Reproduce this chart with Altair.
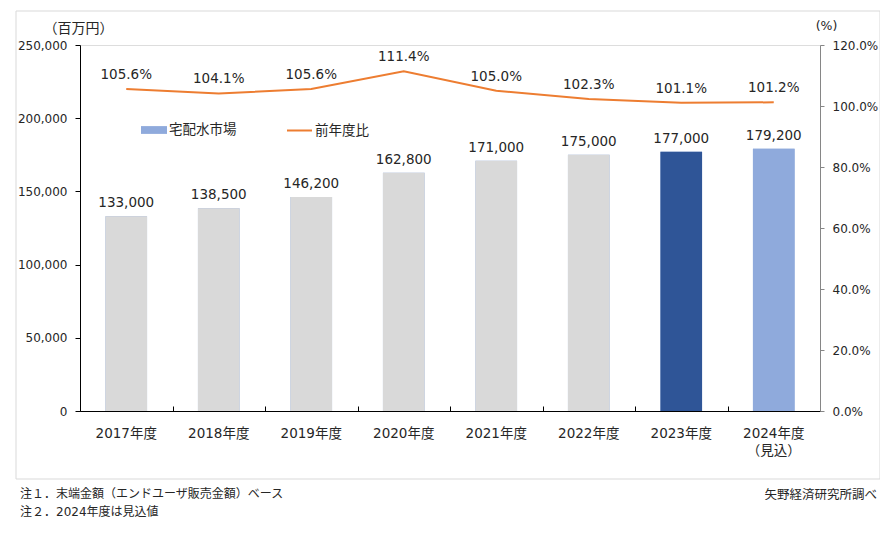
import altair as alt
import pandas as pd

years = ["2017年度", "2018年度", "2019年度", "2020年度", "2021年度", "2022年度", "2023年度", "2024年度\n（見込）"]
market = [133000, 138500, 146200, 162800, 171000, 175000, 177000, 179200]
ratio = [105.6, 104.1, 105.6, 111.4, 105.0, 102.3, 101.1, 101.2]
left_ticks = [0, 50000, 100000, 150000, 200000, 250000]
right_ticks = [0, 20, 40, 60, 80, 100, 120]
series_bar = "宅配水市場"
series_line = "前年度比"
notes = ["注１．末端金額（エンドユーザ販売金額）ベース", "注２．2024年度は見込値"]
source = "矢野経済研究所調べ"
bar_colors = ["#D9D9D9"] * 6 + ["#2F5597", "#8FAADC"]

df = pd.DataFrame({"year": years, "market": market, "ratio": ratio})
df["s1"] = series_bar
df["s2"] = series_line

FONT = "DejaVu Sans, Noto Sans CJK JP"
TXT = "#262626"
W, H = 740, 366

xs = alt.Scale(domain=years, paddingInner=0, paddingOuter=0)
ys = alt.Scale(domain=[0, 250000], nice=False, zero=True)
y2s = alt.Scale(domain=[0, 120], nice=False, zero=True)

base = alt.Chart(df)

bars_legend = base.mark_bar(width=alt.RelativeBandSize(0.45)).encode(
    x=alt.X("year:N", scale=xs, sort=years, title=None,
            axis=alt.Axis(orient="bottom", labelAngle=0, ticks=False, domainColor="#000000",
                          labelFont=FONT, labelFontSize=13.5, labelColor=TXT, labelPadding=15,
                          labelBaseline="top", labelLineHeight=17,
                          labelExpr="split(datum.label, '\\n')")),
    y=alt.Y("market:Q", scale=ys,
            axis=alt.Axis(orient="left", values=left_ticks, format=",.0f", grid=False,
                          domainColor="#000000", tickColor="#000000", tickSize=5,
                          labelPadding=8, labelFont=FONT, labelFontSize=12, labelColor=TXT,
                          title="（百万円）", titleAngle=0, titleX=-2, titleY=-17,
                          titleAlign="center", titleBaseline="middle", titleFont=FONT,
                          titleFontSize=14, titleFontWeight="normal", titleColor=TXT)),
    color=alt.Color("s1:N", scale=alt.Scale(domain=[series_bar], range=["#8FAADC"]),
                    legend=alt.Legend(orient="none", legendX=61, legendY=72, title=None,
                                      symbolType="M-1,-0.3H1V0.3H-1Z", symbolSize=676,
                                      symbolStrokeWidth=0, labelFont=FONT, labelFontSize=13.5,
                                      labelColor=TXT, labelOffset=2)),
)

bars = base.mark_bar(width=alt.RelativeBandSize(0.45)).encode(
    x=alt.X("year:N", scale=xs, sort=years, axis=None),
    y=alt.Y("market:Q", scale=ys, axis=None),
    fill=alt.Fill("year:N", scale=alt.Scale(domain=years, range=bar_colors), legend=None),
)

bar_labels = base.mark_text(font=FONT, fontSize=13.5, color=TXT, baseline="alphabetic", dy=-9).encode(
    x=alt.X("year:N", scale=xs, sort=years,
            axis=alt.Axis(orient="top", offset=-H, labels=False, domain=False, ticks=True,
                          tickBand="extent", tickSize=5, tickColor="#000000", title=None)),
    y=alt.Y("market:Q", scale=ys, axis=None),
    text=alt.Text("market:Q", format=",.0f"),
)

line = base.mark_line(strokeWidth=2).encode(
    x=alt.X("year:N", scale=xs, sort=years, axis=None),
    y=alt.Y("ratio:Q", scale=y2s,
            axis=alt.Axis(orient="right", values=right_ticks, grid=False,
                          labelExpr="format(datum.value, '.1f') + '%'",
                          domainColor="#868686", tickColor="#868686", tickSize=4,
                          labelPadding=8, labelFont=FONT, labelFontSize=12, labelColor=TXT,
                          title="(%)", titleAngle=0, titleX=6, titleY=-20,
                          titleAlign="center", titleBaseline="middle", titleFont=FONT,
                          titleFontSize=12.5, titleFontWeight="normal", titleColor=TXT)),
    color=alt.Color("s2:N", scale=alt.Scale(domain=[series_line], range=["#ED7D31"]),
                    legend=alt.Legend(orient="none", legendX=206, legendY=72, title=None,
                                      symbolType="stroke", symbolSize=625,
                                      symbolStrokeWidth=2, labelFont=FONT, labelFontSize=13.5,
                                      labelColor=TXT, labelOffset=2)),
)

line_labels = base.transform_calculate(
    lab="format(datum.ratio, '.1f') + '%'"
).mark_text(font=FONT, fontSize=13.5, color=TXT, baseline="alphabetic", dy=-10).encode(
    x=alt.X("year:N", scale=xs, sort=years, axis=None),
    y=alt.Y("ratio:Q", scale=y2s, axis=None),
    text="lab:N",
)

frame = alt.Chart(pd.DataFrame({"k": [0]})).mark_rect(
    fill=None, stroke="#D9D9D9", strokeWidth=1
).encode(x=alt.value(-64), x2=alt.value(800), y=alt.value(-34), y2=alt.value(434))

notes_df = pd.DataFrame({"t": notes, "i": [0, 1]})
notes_layer = alt.Chart(notes_df).mark_text(
    font=FONT, fontSize=12, color=TXT, align="left", baseline="middle"
).encode(
    x=alt.value(-60),
    y=alt.Y("i:Q", scale=alt.Scale(domain=[0, 1], range=[449, 467]), axis=None),
    text="t:N",
)

src_layer = alt.Chart(pd.DataFrame({"t": [source]})).mark_text(
    font=FONT, fontSize=12.5, color=TXT, align="right", baseline="middle"
).encode(x=alt.value(797), y=alt.value(450), text="t:N")

chart = alt.layer(
    frame, bars_legend, bars, bar_labels, line, line_labels, notes_layer, src_layer
).resolve_scale(
    y="independent", color="independent", fill="independent"
).resolve_axis(
    x="independent", y="independent"
).properties(
    width=W, height=H,
    autosize=alt.AutoSizeParams(type="none"),
    padding={"left": 72, "top": 37, "right": 60, "bottom": 125},
).configure_view(stroke=None).configure(background="white")

chart.save("out.html", embed_options={"renderer": "svg", "actions": False})
